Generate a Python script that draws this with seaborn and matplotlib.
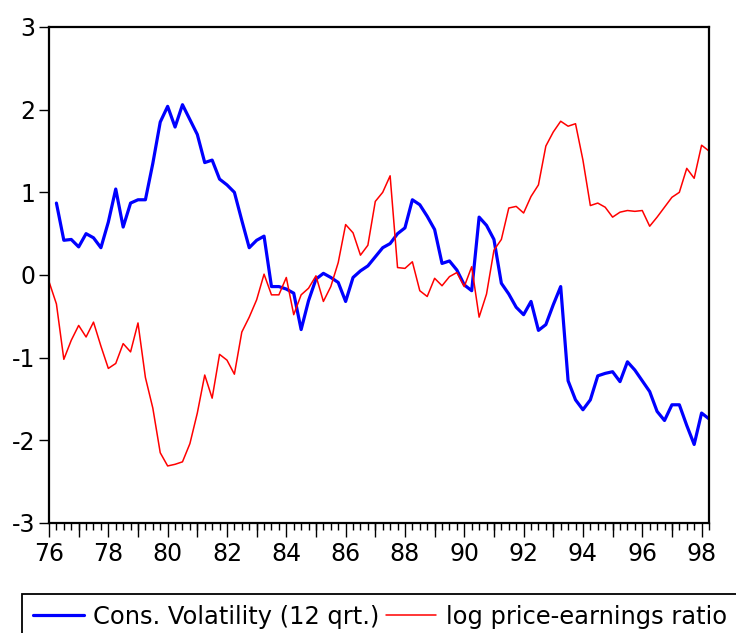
import numpy as np
import pandas as pd
import matplotlib
matplotlib.use("Agg")
import matplotlib.pyplot as plt
import seaborn as sns
from matplotlib.ticker import MultipleLocator, FixedLocator

# quarterly observations 1976Q1 .. 1998Q2
quarters = np.arange(76, 98.5, 0.25)

cons_vol = [np.nan, 0.87, 0.42, 0.43, 0.34, 0.50, 0.45, 0.33, 0.64, 1.04, 0.58, 0.87, 0.91, 0.91, 1.35,
            1.85, 2.04, 1.79, 2.06, 1.88, 1.70, 1.36, 1.39, 1.16, 1.09, 1.00, 0.66, 0.33, 0.42, 0.47,
            -0.14, -0.14, -0.17, -0.22, -0.66, -0.31, -0.05, 0.02, -0.03, -0.09, -0.32, -0.03, 0.05, 0.11, 0.22,
            0.33, 0.38, 0.50, 0.57, 0.91, 0.85, 0.71, 0.55, 0.14, 0.17, 0.06, -0.12, -0.19, 0.70, 0.60,
            0.43, -0.10, -0.23, -0.39, -0.48, -0.32, -0.67, -0.60, -0.36, -0.14, -1.28, -1.51, -1.63, -1.51, -1.22,
            -1.19, -1.17, -1.29, -1.05, -1.15, -1.28, -1.41, -1.65, -1.76, -1.57, -1.57, -1.82, -2.05, -1.67, -1.74]

log_pe = [-0.08, -0.35, -1.02, -0.79, -0.61, -0.75, -0.57, -0.86, -1.13, -1.07, -0.83, -0.93, -0.58, -1.24, -1.61,
          -2.15, -2.31, -2.29, -2.26, -2.04, -1.67, -1.21, -1.49, -0.96, -1.03, -1.20, -0.69, -0.51, -0.30, 0.01,
          -0.24, -0.24, -0.03, -0.48, -0.24, -0.16, -0.01, -0.32, -0.14, 0.15, 0.61, 0.51, 0.24, 0.36, 0.89,
          1.00, 1.20, 0.09, 0.08, 0.16, -0.19, -0.26, -0.04, -0.13, -0.02, 0.03, -0.14, 0.10, -0.51, -0.23,
          0.30, 0.43, 0.81, 0.83, 0.75, 0.95, 1.09, 1.56, 1.73, 1.86, 1.80, 1.83, 1.39, 0.84, 0.87,
          0.82, 0.70, 0.76, 0.78, 0.77, 0.78, 0.59, 0.70, 0.82, 0.94, 1.00, 1.29, 1.17, 1.57, 1.50]

year_ticks = list(range(76, 99, 2))
odd_years = list(range(77, 99, 2))
y_ticks = [-3, -2, -1, 0, 1, 2, 3]

df = pd.DataFrame({'q': quarters, 'vol': cons_vol, 'pe': log_pe})

sns.set_style('ticks')
plt.rcParams['font.family'] = ['DejaVu Sans']
plt.rcParams['text.color'] = 'black'

fig = plt.figure(figsize=(7.36, 6.33), dpi=100)
ax = fig.add_axes([49/736, 1-523/633, 660/736, 496/633])

sns.lineplot(data=df, x='q', y='vol', color='#0000ff', linewidth=2.3,
             label='Cons. Volatility (12 qrt.)', ax=ax)
sns.lineplot(data=df, x='q', y='pe', color='#ff0000', linewidth=1.1,
             label='log price-earnings ratio', ax=ax)

ax.set_xlim(76, 98.25)
ax.set_ylim(-3, 3)
ax.xaxis.set_major_locator(FixedLocator(year_ticks))
ax.set_xticklabels([str(y) for y in year_ticks])
ax.xaxis.set_minor_locator(MultipleLocator(0.25))
ax.set_yticks(y_ticks)
ax.set_yticklabels([str(v) for v in y_ticks])
ax.set_xlabel('')
ax.set_ylabel('')

# yearly ticks long, quarterly short, all hanging below the frame
ax.tick_params(axis='x', which='major', length=10, width=1.0, direction='out',
               labelsize=17, pad=4, color='black', labelcolor='black')
ax.tick_params(axis='x', which='minor', length=5, width=1.0, direction='out', color='black')
ax.tick_params(axis='y', which='major', length=7, width=1.0, direction='out',
               labelsize=17, pad=3, color='black', labelcolor='black')

# every year has a long tick; labels only on even years
sec = ax.secondary_xaxis('bottom')
sec.set_xticks(odd_years)
sec.set_xticklabels(['' for _ in odd_years])
sec.tick_params(length=10, width=1.0, direction='out', color='black')
sec.spines['bottom'].set_visible(False)

for s in ax.spines.values():
    s.set_visible(True)
    s.set_color('black')
    s.set_linewidth(1.6)

leg = ax.legend(loc='upper left', bbox_to_anchor=(22/736, 1-594/633), bbox_transform=fig.transFigure,
                ncol=2, fontsize=17.4, frameon=True, fancybox=False, edgecolor='black',
                framealpha=1, borderaxespad=0, handlelength=2.1, handletextpad=0.4,
                columnspacing=0.25, borderpad=0.45)
leg.get_frame().set_linewidth(1.3)
for t in leg.get_texts():
    t.set_color('black')

fig.savefig('out.png', dpi=100, facecolor='white')
